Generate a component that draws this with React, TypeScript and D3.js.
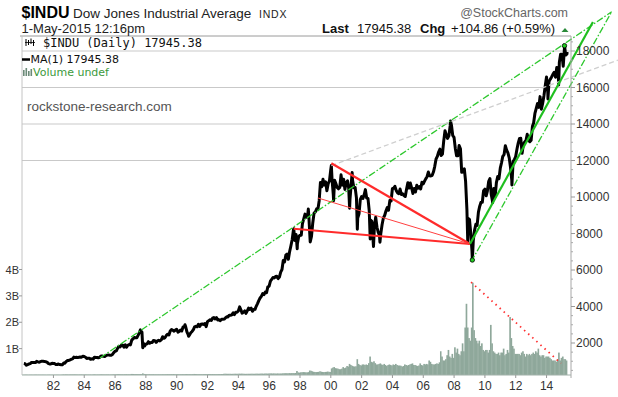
import React from "react";
import * as d3 from "d3";

const W = 618;
const H = 397;

// Monthly closes of the Dow Jones Industrial Average, Jan 1980 onwards
const closes1980s = [
  876, 863, 786, 817, 851, 868, 935, 933, 932, 925, 993, 964,
  947, 975, 1004, 998, 992, 977, 953, 882, 850, 853, 889, 875,
  871, 824, 823, 848, 820, 812, 809, 901, 896, 992, 1039, 1047,
  1076, 1113, 1130, 1226, 1200, 1222, 1199, 1216, 1233, 1225, 1276, 1259,
  1221, 1155, 1165, 1171, 1105, 1132, 1115, 1224, 1207, 1207, 1189, 1212,
  1287, 1284, 1267, 1258, 1315, 1336, 1348, 1334, 1329, 1375, 1472, 1547,
  1571, 1709, 1819, 1784, 1877, 1893, 1775, 1898, 1768, 1878, 1914, 1896,
  2158, 2224, 2305, 2286, 2292, 2419, 2572, 2663, 2596, 1994, 1834, 1939,
  1958, 2072, 1988, 2032, 2031, 2142, 2129, 2032, 2113, 2149, 2114, 2169,
  2342, 2258, 2294, 2419, 2480, 2440, 2661, 2737, 2693, 2645, 2706, 2753,
];
const closes1990s = [
  2591, 2627, 2707, 2657, 2877, 2881, 2905, 2614, 2453, 2442, 2560, 2634,
  2736, 2882, 2914, 2888, 3028, 2907, 3025, 3044, 3017, 3069, 2895, 3169,
  3224, 3267, 3236, 3359, 3397, 3319, 3394, 3257, 3272, 3226, 3305, 3301,
  3310, 3371, 3435, 3428, 3527, 3516, 3540, 3651, 3555, 3681, 3684, 3754,
  3978, 3832, 3636, 3682, 3758, 3625, 3765, 3913, 3843, 3908, 3739, 3834,
  3844, 4011, 4158, 4321, 4465, 4556, 4709, 4650, 4789, 4756, 5075, 5117,
  5395, 5486, 5588, 5569, 5643, 5655, 5529, 5616, 5882, 6029, 6522, 6448,
  6813, 6877, 6584, 7009, 7331, 7673, 8223, 7622, 7945, 7442, 7823, 7908,
  7907, 8546, 8800, 9063, 8900, 8952, 8883, 7539, 7843, 8592, 9117, 9181,
  9359, 9307, 9786, 10789, 10560, 10971, 10655, 10829, 10337, 10730, 10878, 11497,
];
const closes2000s = [
  10941, 10128, 10922, 10734, 10522, 10448, 10522, 11215, 10651, 10971, 10415, 10788,
  10887, 10495, 9879, 10735, 10912, 10502, 10523, 9950, 8848, 9075, 9852, 10022,
  9920, 10106, 10404, 9946, 9925, 9243, 8737, 8664, 7592, 8397, 8896, 8342,
  8054, 7891, 7992, 8480, 8850, 8985, 9234, 9416, 9275, 9801, 9782, 10454,
  10488, 10584, 10358, 10226, 10188, 10435, 10140, 10174, 10080, 10027, 10428, 10783,
  10490, 10766, 10504, 10193, 10467, 10275, 10641, 10482, 10569, 10440, 10806, 10718,
  10865, 10993, 11109, 11367, 11168, 11150, 11186, 11381, 11679, 12081, 12222, 12463,
  12622, 12269, 12354, 13063, 13628, 13409, 13212, 13358, 13896, 13930, 13372, 13265,
  12650, 12266, 12263, 12820, 12638, 11350, 11378, 11544, 10851, 9325, 8829, 8776,
  8001, 7063, 7609, 8168, 8500, 8447, 9172, 9496, 9712, 9713, 10345, 10428,
];
const closes2010s = [
  10067, 10325, 10857, 11009, 10137, 9774, 10466, 10015, 10788, 11118, 11006, 11578,
  11892, 12226, 12320, 12811, 12570, 12414, 12143, 11614, 10913, 11955, 12046, 12218,
  12633, 12952, 13212, 13214, 12393, 12880, 13009, 13091, 13437, 13096, 13026, 13104,
  13861, 14054, 14579, 14840, 15116, 14910, 15500, 14810, 15130, 15546, 16086, 16577,
  15699, 16322, 16458, 16581, 16717, 16827, 16563, 17098, 17043, 17391, 17828, 17823,
  17165, 18133, 17776, 17841,
];
// Notable daily highs / lows
const keyDays: [string, number][] = [
  ["1987-08-25", 2722], ["1987-10-19", 1739], ["1990-07-16", 2999], ["1990-10-11", 2365],
  ["1997-08-06", 8259], ["1997-10-27", 7161], ["1998-07-17", 9338], ["1998-08-31", 7539],
  ["2000-01-14", 11723], ["2000-03-07", 9796], ["2001-03-22", 9389], ["2001-05-21", 11337],
  ["2001-09-21", 8236], ["2002-07-23", 7702], ["2002-10-09", 7286], ["2003-03-11", 7524],
  ["2007-10-09", 14165], ["2008-11-20", 7552], ["2009-03-09", 6547], ["2010-07-02", 9686],
  ["2011-10-03", 10655], ["2014-02-03", 15373], ["2014-10-15", 16142], ["2015-03-02", 18288],
  ["2015-05-01", 17945],
];

// Monthly volume (billions of shares)
const vol1980s = [
  0.010, 0.011, 0.013, 0.011, 0.010, 0.011, 0.012, 0.012, 0.011, 0.013, 0.014, 0.012,
  0.012, 0.011, 0.012, 0.013, 0.011, 0.010, 0.010, 0.011, 0.012, 0.012, 0.011, 0.011,
  0.012, 0.011, 0.012, 0.011, 0.010, 0.011, 0.013, 0.020, 0.018, 0.022, 0.020, 0.018,
  0.020, 0.021, 0.020, 0.022, 0.023, 0.020, 0.019, 0.018, 0.019, 0.020, 0.019, 0.018,
  0.021, 0.019, 0.018, 0.017, 0.017, 0.016, 0.017, 0.024, 0.020, 0.018, 0.019, 0.018,
  0.024, 0.023, 0.021, 0.020, 0.021, 0.020, 0.021, 0.019, 0.019, 0.021, 0.025, 0.026,
  0.026, 0.030, 0.032, 0.030, 0.027, 0.026, 0.025, 0.027, 0.030, 0.026, 0.027, 0.026,
  0.040, 0.040, 0.038, 0.036, 0.034, 0.033, 0.034, 0.036, 0.034, 0.060, 0.040, 0.035,
  0.030, 0.028, 0.030, 0.027, 0.026, 0.030, 0.025, 0.026, 0.025, 0.026, 0.026, 0.025,
  0.028, 0.027, 0.027, 0.029, 0.030, 0.030, 0.029, 0.033, 0.030, 0.035, 0.030, 0.030,
];
const vol1990s = [
  0.032, 0.028, 0.029, 0.028, 0.032, 0.030, 0.031, 0.035, 0.031, 0.033, 0.030, 0.029,
  0.035, 0.040, 0.036, 0.033, 0.032, 0.031, 0.030, 0.030, 0.031, 0.033, 0.034, 0.036,
  0.037, 0.036, 0.034, 0.035, 0.032, 0.032, 0.033, 0.031, 0.034, 0.035, 0.036, 0.035,
  0.045, 0.048, 0.046, 0.045, 0.044, 0.045, 0.043, 0.044, 0.045, 0.048, 0.046, 0.045,
  0.050, 0.048, 0.052, 0.047, 0.045, 0.044, 0.044, 0.045, 0.046, 0.047, 0.048, 0.046,
  0.047, 0.049, 0.050, 0.048, 0.050, 0.052, 0.053, 0.050, 0.054, 0.055, 0.053, 0.056,
  0.058, 0.060, 0.057, 0.059, 0.055, 0.054, 0.060, 0.053, 0.056, 0.058, 0.062, 0.064,
  0.068, 0.066, 0.064, 0.070, 0.068, 0.070, 0.072, 0.068, 0.075, 0.150, 0.095, 0.092,
  0.100, 0.105, 0.110, 0.108, 0.100, 0.098, 0.110, 0.170, 0.160, 0.140, 0.120, 0.115,
  0.110, 0.115, 0.120, 0.140, 0.125, 0.115, 0.110, 0.115, 0.120, 0.130, 0.120, 0.115,
];
const vol2000s = [
  0.25, 0.28, 0.30, 0.26, 0.25, 0.24, 0.22, 0.22, 0.24, 0.30, 0.26, 0.28,
  0.34, 0.32, 0.42, 0.38, 0.35, 0.33, 0.32, 0.33, 0.60, 0.42, 0.38, 0.36,
  0.40, 0.40, 0.38, 0.40, 0.38, 0.45, 0.70, 0.50, 0.48, 0.52, 0.45, 0.40,
  0.40, 0.42, 0.44, 0.40, 0.38, 0.42, 0.38, 0.34, 0.38, 0.40, 0.38, 0.36,
  0.40, 0.38, 0.42, 0.38, 0.36, 0.36, 0.35, 0.32, 0.34, 0.40, 0.38, 0.36,
  0.38, 0.40, 0.42, 0.44, 0.38, 0.38, 0.36, 0.34, 0.36, 0.44, 0.38, 0.36,
  0.42, 0.40, 0.42, 0.40, 0.55, 0.50, 0.42, 0.40, 0.40, 0.42, 0.44, 0.42,
  0.48, 0.90, 0.70, 0.55, 0.55, 0.60, 0.75, 0.95, 0.70, 0.65, 0.80, 0.65,
  1.05, 0.85, 1.00, 0.80, 0.75, 0.90, 1.20, 0.90, 1.80, 2.70, 1.80, 1.40,
  1.30, 1.80, 3.50, 1.70, 1.40, 1.30, 1.20, 1.30, 1.10, 1.20, 0.95, 0.90,
];
const vol2010s = [
  0.95, 0.95, 0.85, 0.95, 1.90, 1.20, 0.90, 0.85, 0.80, 0.80, 0.85, 0.75,
  0.85, 0.85, 1.00, 0.75, 0.80, 0.95, 0.85, 2.20, 1.40, 1.10, 1.00, 0.80,
  0.80, 0.80, 0.80, 0.75, 0.85, 0.90, 0.80, 0.70, 0.80, 0.75, 0.80, 0.75,
  0.80, 0.85, 0.80, 0.90, 0.85, 1.00, 0.75, 0.70, 0.75, 0.75, 0.65, 0.70,
  0.70, 0.70, 0.65, 0.60, 0.55, 0.55, 0.55, 0.50, 0.60, 0.85, 0.55, 0.65,
  0.70, 0.60, 0.60, 0.55,
];

const priceTicks = [2000, 4000, 6000, 8000, 10000, 12000, 14000, 16000, 18000];
const gridValues = [12000, 14000, 16000, 18000];
const volumeTicks = [1, 2, 3, 4];
const volumeTickLabels = ["1B", "2B", "3B", "4B"];
const yearTicks = [1982, 1984, 1986, 1988, 1990, 1992, 1994, 1996, 1998, 2000, 2002, 2004, 2006, 2008, 2010, 2012, 2014];

// Trend lines drawn on the chart: start and end points (date, index value)
const trendStarts: [string, number][] = [
  ["1985-01-08", 1178],
  ["2000-01-14", 11723],
  ["2000-01-14", 11850],
  ["1997-08-06", 8259],
  ["1999-03-05", 9945],
  ["2009-01-12", 7425],
  ["2009-02-06", 6438],
];
const trendEnds: [string, number][] = [
  ["2018-03-25", 20150],
  ["2018-08-20", 17500],
  ["2009-01-12", 7425],
  ["2009-01-12", 7425],
  ["2009-01-12", 7425],
  ["2017-01-04", 19589],
  ["2018-03-25", 20150],
];
const volumeTrend: [string, number][] = [["2009-02-06", 3.52], ["2014-12-10", 0.44]];
const markerPoints: [string, number][] = [["2009-03-09", 6547], ["2015-03-02", 18288]];

const FONT = "'Liberation Sans', Arial, sans-serif";

export default function App() {
  const parse = d3.timeParse("%Y-%m-%d");
  const left = 22;
  const right = 571;
  const top = 36;
  const bottom = 375;

  const x = d3
    .scaleTime()
    .domain([new Date(1980, 0, 1), new Date(2016, 0, 1)])
    .range([22.6, 22.6 + 36 * 15.41]);
  const y = d3.scaleLinear().domain([2000, 18000]).range([343, 51]);
  const yv = d3.scaleLinear().domain([0, 4]).range([bottom, 269.5]);

  const closes = [...closes1980s, ...closes1990s, ...closes2000s, ...closes2010s];
  const monthly = closes.map((v, i) => ({ date: new Date(1980, i + 1, 0), v }));
  const key = keyDays.map(([d, v]) => ({ date: parse(d) as Date, v }));
  const series = [...monthly, ...key].sort((a, b) => +a.date - +b.date);
  const line = d3
    .line<{ date: Date; v: number }>()
    .x((d) => x(d.date))
    .y((d) => y(d.v));

  const vols = [...vol1980s, ...vol1990s, ...vol2000s, ...vol2010s].map((v, i) => ({
    start: new Date(1980, i, 1),
    end: new Date(1980, i + 1, 1),
    v,
  }));

  const trendStyles = [
    { stroke: "#2ec82e", width: 1.3, dash: "7,2,1.5,2" },
    { stroke: "#cfcfcf", width: 1.3, dash: "5,3" },
    { stroke: "#ff2b2b", width: 2.2, dash: undefined },
    { stroke: "#ff2b2b", width: 2.2, dash: undefined },
    { stroke: "#ff4040", width: 1, dash: undefined },
    { stroke: "#1fbf1f", width: 2.2, dash: undefined },
    { stroke: "#2ec82e", width: 1.3, dash: "7,2,1.5,2" },
  ];

  const minorTicks = d3.range(500, 18501, 500).filter((v) => v % 2000 !== 0);

  return (
    <div style={{ position: "fixed", left: 0, top: 0 }}>
      <svg width={W} height={H} style={{ display: "block", background: "#fff" }} fontFamily={FONT}>
        <rect x={0} y={0} width={W} height={H} fill="#fff" />
        {/* grid */}
        {gridValues.map((g) => (
          <line key={g} x1={left} x2={right} y1={y(g)} y2={y(g)} stroke="#c9c9c9" strokeWidth={1} />
        ))}
        {/* volume */}
        <g fill="#8fa89b">
          {vols.map((d, i) => {
            const x0 = x(d.start);
            const x1 = x(d.end);
            return <rect key={i} x={x0} y={yv(d.v)} width={x1 - x0 + 0.35} height={bottom - yv(d.v)} />;
          })}
        </g>
        <line
          x1={x(parse(volumeTrend[0][0]) as Date)}
          y1={yv(volumeTrend[0][1])}
          x2={x(parse(volumeTrend[1][0]) as Date)}
          y2={yv(volumeTrend[1][1])}
          stroke="#ff3030"
          strokeWidth={1.8}
          strokeDasharray="1.5,4"
        />
        {/* price */}
        <path d={line(series) || ""} fill="none" stroke="#000" strokeWidth={3} strokeLinejoin="round" />
        {/* trend lines */}
        {trendStarts.map((s, i) => {
          const e = trendEnds[i];
          const st = trendStyles[i];
          return (
            <line
              key={i}
              x1={x(parse(s[0]) as Date)}
              y1={y(s[1])}
              x2={x(parse(e[0]) as Date)}
              y2={y(e[1])}
              stroke={st.stroke}
              strokeWidth={st.width}
              strokeDasharray={st.dash}
            />
          );
        })}
        {markerPoints.map(([d, v], i) => (
          <circle key={i} cx={x(parse(d) as Date)} cy={y(v)} r={2.2} fill="#22cc22" stroke="#000" strokeWidth={0.8} />
        ))}
        {/* frame */}
        <line x1={20} x2={right} y1={top} y2={top} stroke="#9a9a9a" />
        <line x1={left} x2={left} y1={top} y2={bottom} stroke="#c4c4c4" />
        <line x1={right} x2={right} y1={top} y2={bottom + 3} stroke="#a8a8a8" />
        <line x1={left} x2={right} y1={bottom} y2={bottom} stroke="#a0b0a8" />
        {/* right axis */}
        {minorTicks.map((t) => (
          <line key={t} x1={right} x2={right + 2} y1={y(t)} y2={y(t)} stroke="#aaa" />
        ))}
        {priceTicks.map((t) => (
          <g key={t}>
            <line x1={right} x2={right + 4} y1={y(t)} y2={y(t)} stroke="#999" />
            <text x={576} y={y(t) + 4.3} fontSize={12} fill="#333">
              {t}
            </text>
          </g>
        ))}
        {/* left axis */}
        {volumeTicks.map((t, i) => (
          <g key={t}>
            <line x1={left - 3} x2={left} y1={yv(t)} y2={yv(t)} stroke="#999" />
            <text x={19} y={yv(t) + 4} fontSize={11} fill="#333" textAnchor="end">
              {volumeTickLabels[i]}
            </text>
          </g>
        ))}
        {/* bottom axis */}
        {yearTicks.map((yr) => {
          const xp = x(new Date(yr, 0, 1));
          return (
            <g key={yr}>
              <line x1={xp} x2={xp} y1={bottom} y2={bottom + 3} stroke="#999" />
              <text x={xp} y={389.5} fontSize={12} fill="#333" textAnchor="middle">
                {d3.timeFormat("%y")(new Date(yr, 0, 1))}
              </text>
            </g>
          );
        })}
        {/* header */}
        <text x={21.5} y={17.5} fontSize={16} fontWeight="bold" fill="#000">
          $INDU
        </text>
        <text x={73} y={17.5} fontSize={13.5} fill="#222">
          Dow Jones Industrial Average
        </text>
        <text x={259} y={17.5} fontSize={10.5} fill="#222" letterSpacing={0.8}>
          INDX
        </text>
        <text x={21.5} y={32.5} fontSize={13} fill="#222">
          1-May-2015 12:16pm
        </text>
        <text x={568} y={16.5} fontSize={12.5} fill="#666" textAnchor="end">
          @StockCharts.com
        </text>
        <text x={322} y={33} fontSize={13} fill="#111">
          <tspan fontWeight="bold">Last</tspan>
          <tspan x={357}>17945.38</tspan>
          <tspan x={420} fontWeight="bold">Chg</tspan>
          <tspan x={451}>+104.86 (+0.59%)</tspan>
        </text>
        <path d="M561.5,32 L565,28 L568.5,32 Z" fill="#2a8a3a" />
        {/* legend */}
        <g stroke="#000" strokeWidth={1}>
          <line x1={26} x2={26} y1={39} y2={46} />
          <line x1={28.5} x2={28.5} y1={40} y2={45} />
          <line x1={31} x2={31} y1={38.5} y2={44} />
          <line x1={33.5} x2={33.5} y1={40} y2={46} />
          <line x1={25} x2={35} y1={42.5} y2={42.5} strokeWidth={0.8} />
        </g>
        <text x={43} y={47} fontSize={12} fontFamily="'DejaVu Sans Mono', monospace" fill="#111">
          $INDU (Daily) 17945.38
        </text>
        <line x1={22} x2={30} y1={59.5} y2={59.5} stroke="#000" strokeWidth={2.5} />
        <text x={30.5} y={63} fontSize={11} fontFamily="'DejaVu Sans', sans-serif" fill="#111">
          MA(1) 17945.38
        </text>
        <g fill="#6b8a78">
          <rect x={23} y={70} width={1.6} height={6} />
          <rect x={25.5} y={68} width={1.6} height={8} />
          <rect x={28} y={71} width={1.6} height={5} />
          <rect x={30.5} y={69} width={1.6} height={7} />
        </g>
        <text x={33} y={76} fontSize={11} fontFamily="'DejaVu Sans', sans-serif" fill="#3c9a3c">
          Volume undef
        </text>
        <text x={27} y={111} fontSize={13.5} fill="#555">
          rockstone-research.com
        </text>
      </svg>
    </div>
  );
}
